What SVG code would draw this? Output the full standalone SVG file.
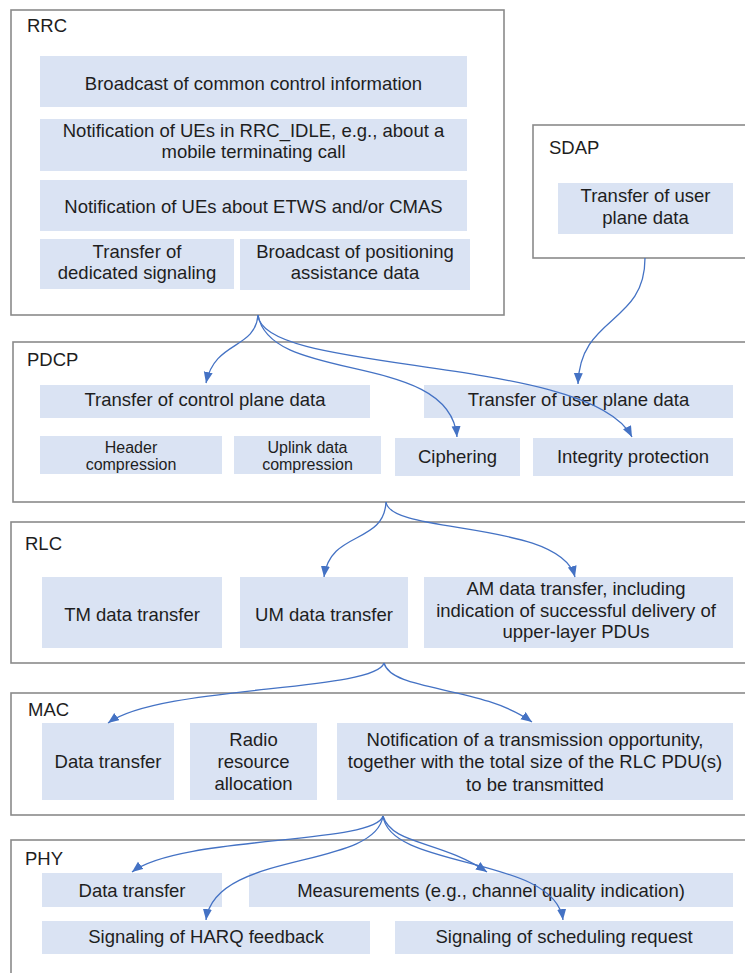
<svg xmlns="http://www.w3.org/2000/svg" width="745" height="973" viewBox="0 0 745 973">
  <style>
    .layer { fill: #ffffff; stroke: #8a8a8a; stroke-width: 1.6; }
    .fn { fill: #dae3f3; stroke: none; }
    text { font-family: "Liberation Sans", Arial, sans-serif; font-size: 18.5px; fill: #1e1e1e; }
    .c { text-anchor: middle; }
    .sm { font-size: 16px; }
    .link { fill: none; stroke: #4472c4; stroke-width: 1.3; marker-end: url(#arrow); }
  </style>
  <defs>
    <marker id="arrow" markerUnits="userSpaceOnUse" markerWidth="12" markerHeight="10" refX="11" refY="4.5" orient="auto">
      <path d="M0,0 L11,4.5 L0,9 z" fill="#4472c4"/>
    </marker>
  </defs>

  <rect width="745" height="973" fill="#ffffff"/>

  <!-- RRC layer -->
  <g id="rrc">
    <rect class="layer" x="11" y="10" width="493" height="305"/>
    <text x="27" y="32">RRC</text>
    <rect class="fn" x="40" y="56" width="427" height="51"/>
    <text class="c" x="253.5" y="90">Broadcast of common control information</text>
    <rect class="fn" x="40" y="119" width="427" height="52"/>
    <text class="c" x="253.5" y="137">Notification of UEs in RRC_IDLE, e.g., about a</text>
    <text class="c" x="253.5" y="158">mobile terminating call</text>
    <rect class="fn" x="40" y="180" width="427" height="51"/>
    <text class="c" x="253.5" y="213">Notification of UEs about ETWS and/or CMAS</text>
    <rect class="fn" x="40" y="239" width="194" height="50"/>
    <text class="c" x="137" y="257.5">Transfer of</text>
    <text class="c" x="137" y="279">dedicated signaling</text>
    <rect class="fn" x="240" y="239" width="230" height="51"/>
    <text class="c" x="355" y="257.5">Broadcast of positioning</text>
    <text class="c" x="355" y="279">assistance data</text>
  </g>

  <!-- SDAP layer -->
  <g id="sdap">
    <rect class="layer" x="533" y="125" width="240" height="133"/>
    <text x="549" y="154">SDAP</text>
    <rect class="fn" x="558" y="183" width="175" height="51"/>
    <text class="c" x="645.5" y="202">Transfer of user</text>
    <text class="c" x="645.5" y="224">plane data</text>
  </g>

  <!-- PDCP layer -->
  <g id="pdcp">
    <rect class="layer" x="13" y="342" width="760" height="160"/>
    <text x="27" y="366">PDCP</text>
    <rect class="fn" x="40" y="385" width="330" height="33"/>
    <text class="c" x="205" y="406">Transfer of control plane data</text>
    <rect class="fn" x="424" y="385" width="309" height="33"/>
    <text class="c" x="578.5" y="406">Transfer of user plane data</text>
    <rect class="fn" x="40" y="436" width="182" height="38"/>
    <text class="c sm" x="131" y="452.5">Header</text>
    <text class="c sm" x="131" y="469.5">compression</text>
    <rect class="fn" x="234" y="436" width="147" height="38"/>
    <text class="c sm" x="307.5" y="452.5">Uplink data</text>
    <text class="c sm" x="307.5" y="469.5">compression</text>
    <rect class="fn" x="395" y="438" width="125" height="38"/>
    <text class="c" x="457.5" y="463">Ciphering</text>
    <rect class="fn" x="533" y="438" width="200" height="38"/>
    <text class="c" x="633" y="463">Integrity protection</text>
  </g>

  <!-- RLC layer -->
  <g id="rlc">
    <rect class="layer" x="11" y="522" width="760" height="141"/>
    <text x="25" y="550">RLC</text>
    <rect class="fn" x="42" y="577" width="180" height="71"/>
    <text class="c" x="132" y="621">TM data transfer</text>
    <rect class="fn" x="240" y="577" width="168" height="71"/>
    <text class="c" x="324" y="621">UM data transfer</text>
    <rect class="fn" x="424" y="577" width="309" height="71"/>
    <text class="c" x="576" y="595">AM data transfer, including</text>
    <text class="c" x="576" y="616.5">indication of successful delivery of</text>
    <text class="c" x="576" y="638">upper-layer PDUs</text>
  </g>

  <!-- MAC layer -->
  <g id="mac">
    <rect class="layer" x="11" y="693" width="760" height="122"/>
    <text x="28" y="716">MAC</text>
    <rect class="fn" x="42" y="723" width="132" height="77"/>
    <text class="c" x="108" y="768">Data transfer</text>
    <rect class="fn" x="190" y="723" width="127" height="77"/>
    <text class="c" x="253.5" y="746">Radio</text>
    <text class="c" x="253.5" y="768">resource</text>
    <text class="c" x="253.5" y="790">allocation</text>
    <rect class="fn" x="337" y="723" width="396" height="77"/>
    <text class="c" x="535" y="746">Notification of a transmission opportunity,</text>
    <text class="c" x="535" y="768">together with the total size of the RLC PDU(s)</text>
    <text class="c" x="535" y="790.5">to be transmitted</text>
  </g>

  <!-- PHY layer -->
  <g id="phy">
    <rect class="layer" x="11" y="840" width="760" height="200"/>
    <text x="25" y="865">PHY</text>
    <rect class="fn" x="42" y="873" width="180" height="34"/>
    <text class="c" x="132" y="897">Data transfer</text>
    <rect class="fn" x="249" y="873" width="484" height="34"/>
    <text class="c" x="491" y="897">Measurements (e.g., channel quality indication)</text>
    <rect class="fn" x="42" y="921" width="328" height="33"/>
    <text class="c" x="206" y="943">Signaling of HARQ feedback</text>
    <rect class="fn" x="395" y="921" width="338" height="33"/>
    <text class="c" x="564" y="943">Signaling of scheduling request</text>
  </g>

  <!-- Connectors between layers -->
  <g id="connectors">
    <!-- RRC to PDCP -->
    <path class="link" d="M258,315 C255,350 215,340 206,383"/>
    <path class="link" d="M258,315 C270,385 450,350 457,437"/>
    <path class="link" d="M258,315 C262,375 590,355 632,437"/>
    <!-- SDAP to PDCP -->
    <path class="link" d="M645,258 C645,325 580,315 578,384"/>
    <!-- PDCP to RLC -->
    <path class="link" d="M386,502 C384,545 330,530 324,577"/>
    <path class="link" d="M386,502 C390,535 560,520 575,577"/>
    <!-- RLC to MAC -->
    <path class="link" d="M384,663 C375,692 160,685 108,723"/>
    <path class="link" d="M384,663 C392,692 480,685 532,722"/>
    <!-- MAC to PHY -->
    <path class="link" d="M383,816 C375,845 180,835 132,872"/>
    <path class="link" d="M383,816 C375,870 215,850 206,920"/>
    <path class="link" d="M383,816 C392,845 440,840 487,872"/>
    <path class="link" d="M383,816 C390,870 555,855 563,920"/>
  </g>
</svg>
